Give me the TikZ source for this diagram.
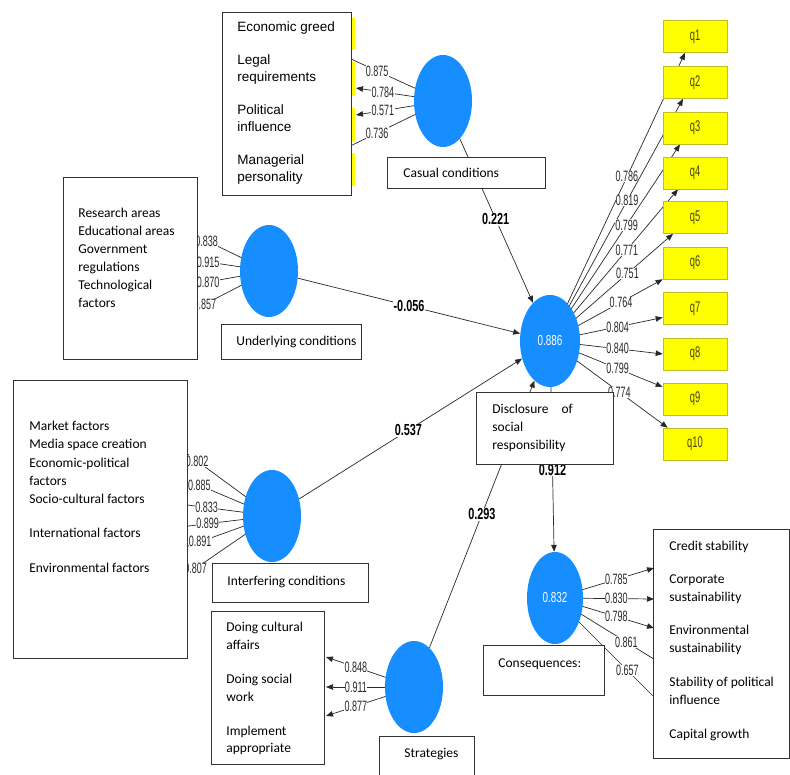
\documentclass[tikz,border=0pt]{standalone}
\usepackage{fontspec}
\setmainfont{Carlito}
\newfontfamily\arialf{Liberation Sans}
\newfontfamily\numf[FakeStretch=0.6]{Liberation Sans}
\newfontfamily\numbf[FakeStretch=0.68]{Liberation Sans}
\usetikzlibrary{shapes.geometric,arrows.meta,backgrounds}
\definecolor{ebl}{RGB}{22,142,255}
\definecolor{qy}{RGB}{255,255,0}
\definecolor{qyb}{RGB}{190,190,30}
\definecolor{lc}{RGB}{40,40,40}
\definecolor{qt}{RGB}{70,70,20}
\definecolor{bx}{RGB}{50,50,50}
\newcommand\inbox[5]{\parbox[c][#2][t]{#1}{\raggedright\leftskip=#3\relax\rule{0pt}{#4}#5}}
\tikzset{
 lv/.style={ellipse, fill=ebl, minimum width=58pt, minimum height=92pt, inner sep=0pt, text=white, font=\numbf\fontsize{14.5}{14.5}\selectfont},
 qbox/.style={draw=qyb, line width=0.6pt, fill=qy, minimum width=64pt, minimum height=32pt, inner sep=0pt, text=qt, font=\numf\fontsize{15.5}{15.5}\selectfont},
 tbox/.style={draw=bx, line width=0.8pt, fill=white, inner sep=0pt, anchor=north west, text=black, font=\fontsize{13.5}{18}\selectfont},
 ld/.style={draw=lc, line width=0.7pt},
 arr/.style={ld, -{Triangle[length=7pt,width=5.5pt]}},
 lab/.style={fill=white, inner sep=0.3pt, text=lc, font=\numf\fontsize{15}{15}\selectfont},
 plab/.style={fill=white, inner sep=0.8pt, text=black, font=\numbf\bfseries\fontsize{16}{16}\selectfont},
}
\begin{document}
\begin{tikzpicture}[x=1pt,y=-1pt]
\useasboundingbox (0,0) rectangle (790,774);

% latent variables
\node[lv] (eC) at (443,101) {};
\node[lv] (eU) at (269,271) {};
\node[lv] (eI) at (272,516) {};
\node[lv] (eS) at (414,687) {};
\node[lv, minimum width=60pt] (eM) at (550,341) {0.886};
\node[lv, minimum width=56pt] (eQ) at (555,598) {0.832};

% indicator boxes q1..q10
\node[qbox] (q1) at (695,36.5) {q1};
\node[qbox] (q2) at (695,82.5) {q2};
\node[qbox] (q3) at (695,128) {q3};
\node[qbox] (q4) at (695,173) {q4};
\node[qbox] (q5) at (695,217.5) {q5};
\node[qbox] (q6) at (695,263) {q6};
\node[qbox] (q7) at (695,308.5) {q7};
\node[qbox] (q8) at (695,354) {q8};
\node[qbox] (q9) at (695,399) {q9};
\node[qbox] (q10) at (695,444) {q10};

% text boxes
\node[tbox, font=\arialf\fontsize{13.5}{16.5}\selectfont] (bA) at (222,12)
 {\inbox{129pt}{183pt}{15pt}{19pt}{Economic greed\\[17pt]Legal\\requirements\\[17pt]Political\\influence\\[17pt]Managerial\\personality}};
\node[tbox] (bCl) at (387,157) {\inbox{158pt}{31pt}{16pt}{20pt}{Casual conditions}};
\node[tbox, font=\fontsize{13.5}{18.1}\selectfont] (bB) at (63,177)
 {\inbox{134pt}{182pt}{15pt}{39.7pt}{Research areas\\Educational areas\\Government\\regulations\\Technological\\factors}};
\node[tbox] (bUl) at (221,324) {\inbox{140pt}{35pt}{15pt}{21pt}{Underlying conditions}};
\node[tbox, font=\fontsize{13.5}{18.3}\selectfont] (bC) at (13,380)
 {\inbox{174pt}{278pt}{16pt}{50pt}{Market factors\\Media space creation\\Economic-political\\factors\\Socio-cultural factors\\[15.4pt]International factors\\[16.7pt]Environmental factors}};
\node[tbox] (bIl) at (212,563) {\inbox{156pt}{39pt}{15pt}{22pt}{Interfering conditions}};
\node[tbox, font=\fontsize{13.5}{17.8}\selectfont] (bD) at (211,611)
 {\inbox{113pt}{153pt}{15pt}{20.5pt}{Doing cultural\\affairs\\[16pt]Doing social\\work\\[16pt]Implement\\appropriate}};
\node[tbox] (bSl) at (379,736) {\inbox{95pt}{42pt}{25pt}{21pt}{Strategies}};
\node[tbox] (bDl) at (476,392) {\inbox{137pt}{72pt}{16pt}{21pt}{Disclosure\hspace{13pt}of\\social\\responsibility}};
\node[tbox] (bQl) at (483,645) {\inbox{121pt}{50pt}{15pt}{22pt}{Consequences:}};
\node[tbox] (bE) at (653,529)
 {\inbox{136pt}{229pt}{16pt}{21pt}{Credit stability\\[15pt]Corporate\\sustainability\\[15pt]Environmental\\sustainability\\[16pt]Stability of political\\influence\\[16pt]Capital growth}};

% free ends of the loading arrows
\coordinate (tA1) at (340,54);
\coordinate (tA2) at (356,88);
\coordinate (tA3) at (356,115);
\coordinate (tA4) at (340,151);
\coordinate (tB1) at (180,228);
\coordinate (tB2) at (180,258);
\coordinate (tB3) at (180,287);
\coordinate (tB4) at (180,317);
\coordinate (tC1) at (180,448.5);
\coordinate (tC2) at (180,477);
\coordinate (tC3) at (180,504);
\coordinate (tC4) at (180,527);
\coordinate (tC5) at (180,549);
\coordinate (tC6) at (180,579);
\coordinate (tD1) at (326,657);
\coordinate (tD2) at (326,687);
\coordinate (tD3) at (326,716);
\coordinate (tE1) at (654,568);
\coordinate (tE2) at (654,599);
\coordinate (tE3) at (654,628);
\coordinate (tE4) at (670,669);
\coordinate (tE5) at (670,713);

\begin{scope}[on background layer]
 % yellow indicator edges peeking from behind the first box
 \fill[qy] (351,18) rectangle (354.5,50);
 \fill[qy] (351,62) rectangle (354.5,96);
 \fill[qy] (351,108) rectangle (354.5,142);
 \fill[qy] (351,153) rectangle (354.5,186);

 % casual conditions loadings
 \draw[arr] (eC.center) -- (tA1) node[lab,pos=0.64]{0.875};
 \draw[arr] (eC.center) -- (tA2) node[lab,pos=0.69]{0.784};
 \draw[arr] (eC.center) -- (tA3) node[lab,pos=0.69]{0.571};
 \draw[arr] (eC.center) -- (tA4) node[lab,pos=0.64]{0.736};

 % underlying conditions loadings
 \draw[arr] (eU.center) -- (tB1) node[lab,pos=0.70]{0.838};
 \draw[arr] (eU.center) -- (tB2) node[lab,pos=0.685]{0.915};
 \draw[arr] (eU.center) -- (tB3) node[lab,pos=0.685]{0.870};
 \draw[arr] (eU.center) -- (tB4) node[lab,pos=0.72]{0.857};

 % interfering conditions loadings
 \draw[arr] (eI.center) -- (tC1) node[lab,pos=0.815]{0.802};
 \draw[arr] (eI.center) -- (tC2) node[lab,pos=0.79]{0.885};
 \draw[arr] (eI.center) -- (tC3) node[lab,pos=0.71]{0.833};
 \draw[arr] (eI.center) -- (tC4) node[lab,pos=0.70]{0.899};
 \draw[arr] (eI.center) -- (tC5) node[lab,pos=0.78]{0.891};
 \draw[arr] (eI.center) -- (tC6) node[lab,pos=0.83]{0.807};

 % strategies loadings
 \draw[arr] (eS.center) -- (tD1) node[lab,pos=0.66]{0.848};
 \draw[arr] (eS.center) -- (tD2) node[lab,pos=0.66]{0.911};
 \draw[arr] (eS.center) -- (tD3) node[lab,pos=0.66]{0.877};

 % consequences loadings
 \draw[arr] (eQ.center) -- (tE1) node[lab,pos=0.62]{0.785};
 \draw[arr] (eQ.center) -- (tE2) node[lab,pos=0.62]{0.830};
 \draw[arr] (eQ.center) -- (tE3) node[lab,pos=0.62]{0.798};
 \draw[arr] (eQ.center) -- (tE4) node[lab,pos=0.62]{0.861};
 \draw[arr] (eQ.center) -- (tE5) node[lab,pos=0.63]{0.657};

 % disclosure loadings to q1..q10
 \draw[arr] (eM.center) -- ([xshift=-10pt]q1.south) node[lab,pos=0.57]{0.786};
 \draw[arr] (eM.center) -- ([xshift=-12pt]q2.south) node[lab,pos=0.58]{0.819};
 \draw[arr] (eM.center) -- ([xshift=-15pt]q3.south) node[lab,pos=0.59]{0.799};
 \draw[arr] (eM.center) -- ([xshift=-17pt]q4.south) node[lab,pos=0.60]{0.771};
 \draw[arr] (eM.center) -- ([xshift=-22pt]q5.south) node[lab,pos=0.63]{0.751};
 \draw[arr] (eM.center) -- (q6.south west) node[lab,pos=0.63]{0.764};
 \draw[arr] (eM.center) -- ([yshift=-9pt]q7.west) node[lab,pos=0.60]{0.804};
 \draw[arr] (eM.center) -- (q8.west) node[lab,pos=0.60]{0.840};
 \draw[arr] (eM.center) -- ([yshift=12pt]q9.west) node[lab,pos=0.60]{0.799};
 \draw[arr] (eM.center) -- ([xshift=5pt]q10.north west) node[lab,pos=0.59]{0.774};

 % structural paths
 \draw[arr] (eC) -- (eM) node[plab,pos=0.49]{0.221};
 \draw[arr] (eU) -- (eM) node[plab,pos=0.5]{-0.056};
 \draw[arr] (eI) -- (eM) node[plab,pos=0.49]{0.537};
 \draw[arr] (eS) -- (eM) node[plab,pos=0.5]{0.293};
 \draw[arr] (eM) -- (eQ) node[plab,pos=0.5]{0.912};
\end{scope}
\end{tikzpicture}
\end{document}
